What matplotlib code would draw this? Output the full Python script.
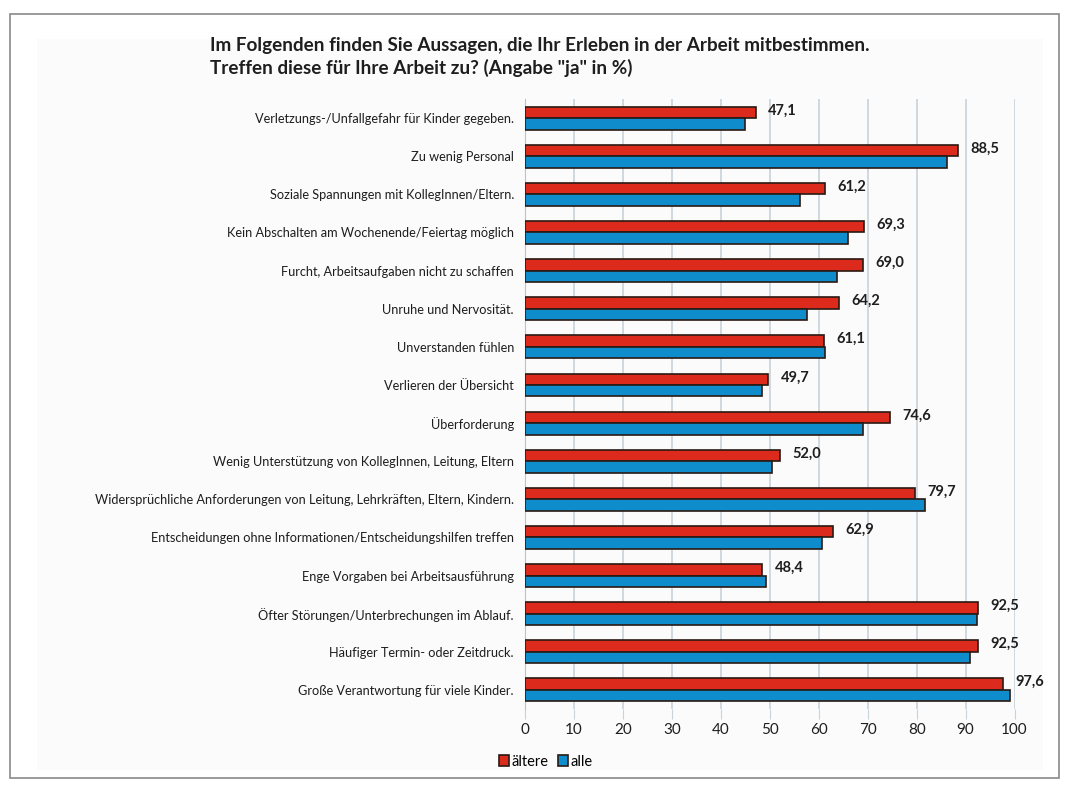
import matplotlib.pyplot as plt
import numpy as np
from matplotlib.patches import Rectangle

# categories, top to bottom as in the original chart
categories = [
    "Verletzungs-/Unfallgefahr für Kinder gegeben.",
    "Zu wenig Personal",
    "Soziale Spannungen mit KollegInnen/Eltern.",
    "Kein Abschalten am Wochenende/Feiertag möglich",
    "Furcht, Arbeitsaufgaben nicht zu schaffen",
    "Unruhe und Nervosität.",
    "Unverstanden fühlen",
    "Verlieren der Übersicht",
    "Überforderung",
    "Wenig Unterstützung von KollegInnen, Leitung, Eltern",
    "Widersprüchliche Anforderungen von Leitung, Lehrkräften, Eltern, Kindern.",
    "Entscheidungen ohne Informationen/Entscheidungshilfen treffen",
    "Enge Vorgaben bei Arbeitsausführung",
    "Öfter Störungen/Unterbrechungen im Ablauf.",
    "Häufiger Termin- oder Zeitdruck.",
    "Große Verantwortung für viele Kinder.",
]
aeltere = [47.1, 88.5, 61.2, 69.3, 69.0, 64.2, 61.1, 49.7, 74.6, 52.0, 79.7, 62.9, 48.4, 92.5, 92.5, 97.6]
alle = [45.0, 86.2, 56.2, 66.0, 63.8, 57.6, 61.2, 48.4, 69.1, 50.5, 81.7, 60.7, 49.3, 92.3, 90.8, 99.1]
xticks = list(range(0, 101, 10))
title = 'Im Folgenden finden Sie Aussagen, die Ihr Erleben in der Arbeit mitbestimmen.\nTreffen diese für Ihre Arbeit zu? (Angabe "ja" in %)'

plt.rcParams['font.family'] = ['Lato', 'DejaVu Sans']

RED = '#dc2a1c'
BLUE = '#0f8ccb'
EDGE = '#2a1a14'

fig = plt.figure(figsize=(10.7, 7.86), dpi=100)
fig.patch.set_facecolor('white')

# outer frame and light panel
fig.add_artist(Rectangle((0.009, 0.01), 0.981, 0.972, transform=fig.transFigure,
                         facecolor='none', edgecolor='#8a8a8a', linewidth=1.2))
fig.add_artist(Rectangle((0.035, 0.02), 0.94, 0.93, transform=fig.transFigure,
                         facecolor='#fbfbfb', edgecolor='none', zorder=-1))

ax = fig.add_axes([0.4907, 0.098, 0.4575, 0.776])
ax.set_facecolor('none')

y = np.arange(len(categories))
h = 0.3
ax.barh(y - h / 2, aeltere, height=h, color=RED, edgecolor=EDGE, linewidth=1.2, label='ältere', zorder=3)
ax.barh(y + h / 2, alle, height=h, color=BLUE, edgecolor=EDGE, linewidth=1.2, label='alle', zorder=3)

for yi, v in zip(y, aeltere):
    ax.annotate(f"{v:.1f}".replace('.', ','), (v, yi - h / 2 - 0.05),
                xytext=(9, 0), textcoords='offset points', va='center', ha='left',
                fontsize=10.5, fontweight='bold', color='#1e1e1e', zorder=4)

ax.set_xlim(0, 100)
ax.set_ylim(len(categories) - 0.5, -0.5)
ax.set_xticks(xticks)
ax.set_xticklabels([str(t) for t in xticks], fontsize=11, color='#1e1e1e')
ax.set_yticks(y)
ax.set_yticklabels(categories, fontsize=9.2, color='#1e1e1e')
ax.tick_params(axis='y', length=0, pad=8)
ax.tick_params(axis='x', length=7, color='#c9d3da', pad=3)
ax.grid(axis='x', color='#c9d3da', linewidth=1.2, zorder=0)
for s in ['top', 'right', 'bottom']:
    ax.spines[s].set_visible(False)
ax.spines['left'].set_color('#b8c4cc')

fig.text(0.196, 0.953, title, fontsize=13.6, fontweight='bold', color='#1e1e1e',
         va='top', ha='left', linespacing=1.3)

leg = fig.legend(loc='center', bbox_to_anchor=(0.51, 0.031), ncol=2, frameon=False,
                 fontsize=10.5, handlelength=0.7, handleheight=0.7, handletextpad=0.2,
                 columnspacing=0.6)

fig.savefig('out.png', dpi=100)
